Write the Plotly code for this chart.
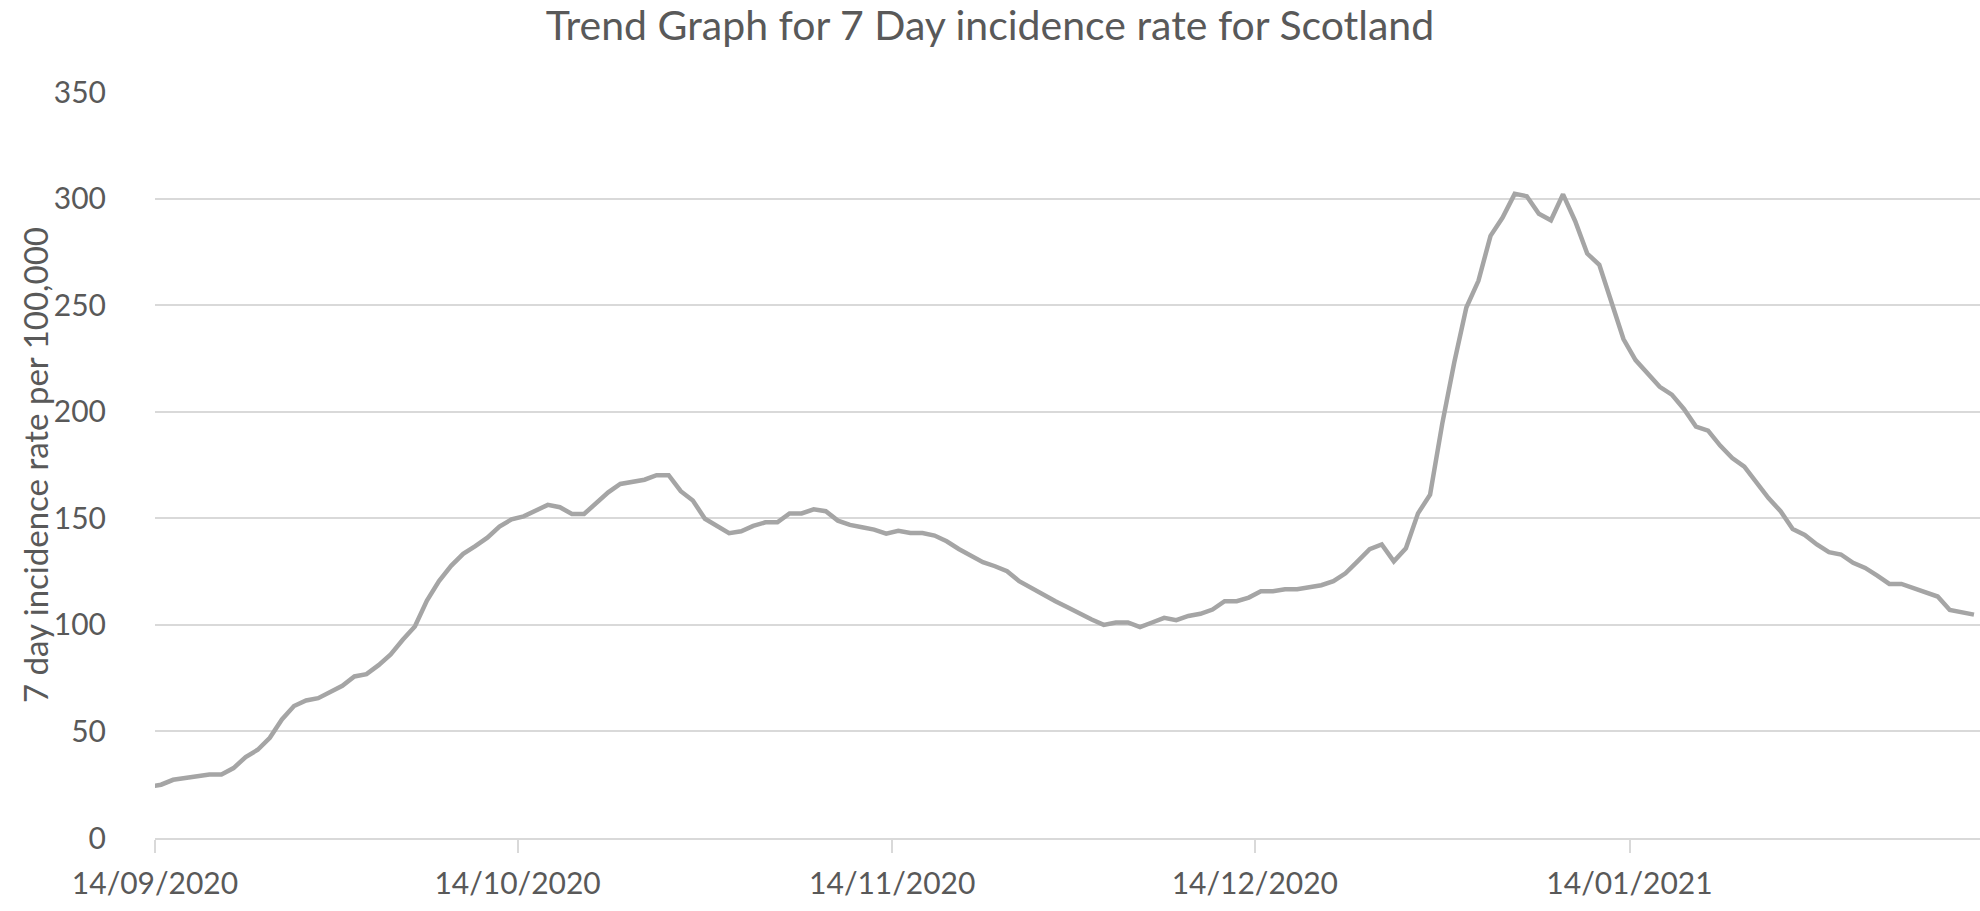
import pandas as pd
import plotly.graph_objects as go

# 7 day incidence rate per 100,000, daily from 13/09/2020 (line enters from the left) to 11/02/2021
start_date = "2020-09-13"
rate = [
    24.0,
    25.0, 27.3, 28.3, 29.1, 29.8, 29.8, 32.8, 38.0, 41.4, 47.0,
    55.6, 61.9, 64.5, 65.6, 68.6, 71.4, 75.8, 76.9, 81.1, 86.1,
    93.0, 99.2, 111.4, 120.5, 127.7, 133.3, 136.9, 140.9, 146.1, 149.5,
    150.9, 153.4, 156.3, 155.2, 152.0, 152.0, 157.0, 162.2, 166.1, 167.0,
    168.1, 170.2, 170.2, 162.7, 158.3, 149.8, 146.6, 143.0, 143.9, 146.4,
    148.1, 148.1, 152.3, 152.3, 154.2, 153.3, 148.9, 146.9, 145.8, 144.7,
    142.8, 144.1, 143.1, 143.1, 141.9, 139.2, 135.6, 132.2, 129.4, 127.5,
    125.2, 120.5, 117.3, 113.8, 111.1, 108.3, 105.2, 102.5, 100.0, 101.1,
    101.1, 98.9, 101.1, 103.3, 102.2, 104.2, 105.2, 107.2, 111.1, 111.1,
    112.8, 115.8, 115.8, 116.7, 116.7, 117.7, 118.6, 120.5, 124.2, 129.8,
    135.5, 137.7, 129.8, 135.9, 152.3, 161.1, 194.2, 223.1, 248.9, 261.4,
    282.5, 291.1, 302.2, 301.1, 292.9, 289.8, 302.0, 289.5, 274.2, 268.9,
    251.3, 234.1, 224.2, 218.1, 211.7, 208.0, 201.3, 193.0, 191.1, 184.1,
    178.3, 174.2, 166.9, 159.5, 153.3, 145.0, 142.2, 137.7, 134.1, 133.0,
    129.1, 126.7, 123.1, 119.2, 119.2, 117.2, 115.3, 113.3, 107.0, 105.9,
    104.8,
]
dates = pd.date_range(start_date, periods=len(rate), freq="D")

tick_dates = ["2020-09-14", "2020-10-14", "2020-11-14", "2020-12-14", "2021-01-14"]
tick_labels = ["14/09/2020", "14/10/2020", "14/11/2020", "14/12/2020", "14/01/2021"]
y_ticks = [0, 50, 100, 150, 200, 250, 300, 350]

title_text = "Trend Graph for 7 Day incidence rate for Scotland"
y_title = "7 day incidence rate per 100,000"

FONT = "Lato"
TXT = "#595959"
GRID = "#d9d9d9"

fig = go.Figure()
fig.add_trace(go.Scatter(
    x=dates, y=rate, mode="lines",
    xperiod=86400000, xperiodalignment="middle",
    line=dict(color="#a5a5a5", width=4.5),
    showlegend=False, hoverinfo="skip",
))

fig.update_layout(
    width=1980, height=911,
    margin=dict(l=155, r=0, t=92, b=73),
    paper_bgcolor="white", plot_bgcolor="white",
    font=dict(family=FONT, color=TXT),
    title=dict(text=title_text, x=0.5, xanchor="center", xref="container",
               y=1 - 26 / 911, yanchor="middle", yref="container",
               font=dict(family=FONT, size=41, color=TXT)),
    annotations=[dict(
        text=y_title, textangle=-90,
        xref="paper", yref="paper", x=-(155 - 35) / 1825, y=0.5,
        xanchor="center", yanchor="middle", showarrow=False,
        font=dict(family=FONT, size=33, color=TXT),
    )],
)
fig.update_xaxes(
    type="date",
    range=["2020-09-14", "2021-02-12"],
    tickvals=tick_dates, ticktext=tick_labels,
    ticks="outside", ticklen=13, tickwidth=2, tickcolor=GRID,
    showline=True, linecolor=GRID, linewidth=2,
    showgrid=False, zeroline=False,
    ticklabelstandoff=5,
    tickfont=dict(family=FONT, size=30, color=TXT),
)
fig.update_yaxes(
    range=[0, 350], tickvals=y_ticks,
    showgrid=True, gridcolor=GRID, gridwidth=1.8,
    zeroline=False, showline=False, ticks="",
    ticklabelstandoff=48,
    tickfont=dict(family=FONT, size=30, color=TXT),
)

fig.write_html("out.html", config={"displayModeBar": False},
               post_script="document.body.style.margin='0';")
